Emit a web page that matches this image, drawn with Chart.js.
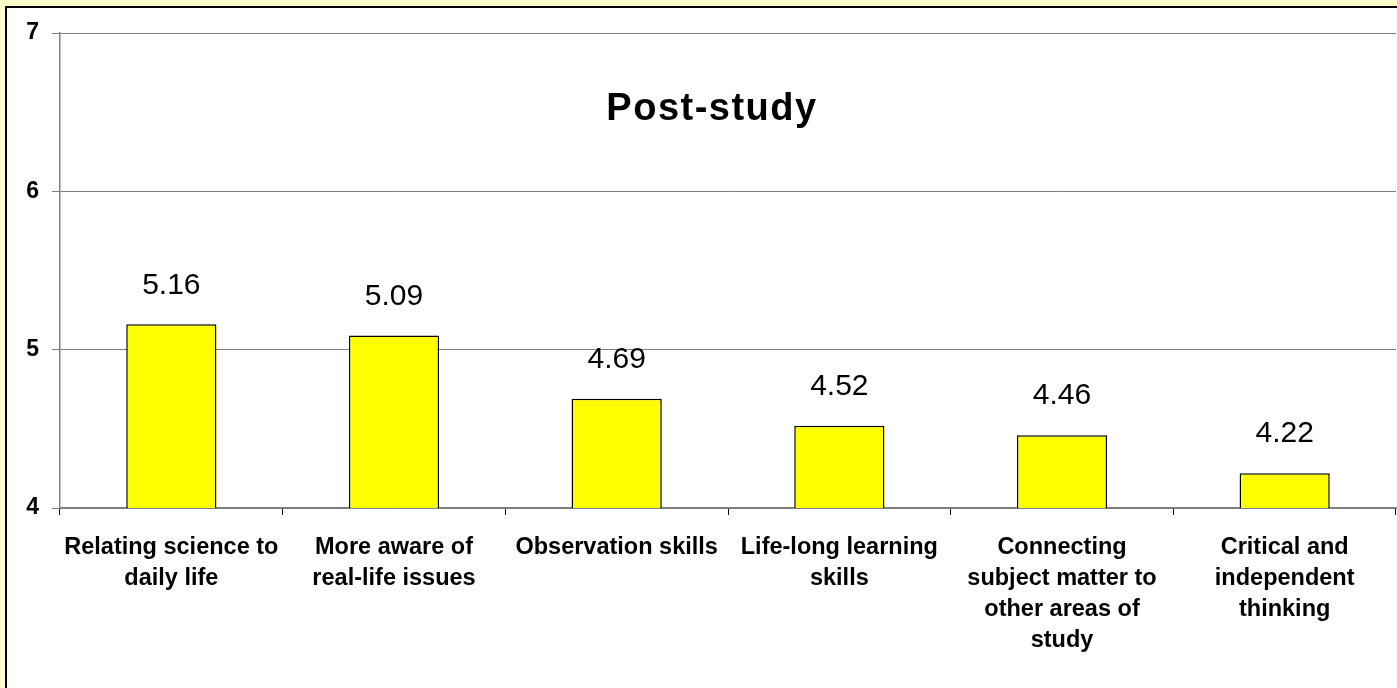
<!DOCTYPE html>
<html>
<head>
<meta charset="utf-8">
<style>
  html, body { margin: 0; padding: 0; background: #FFFFCC; }
  #wrap { position: relative; width: 1397px; height: 688px; }
  canvas { display: block; }
</style>
<script src="https://cdn.jsdelivr.net/npm/chart.js@4/dist/chart.umd.min.js"></script>
</head>
<body>
<div id="wrap"><canvas id="c" width="1397" height="688"></canvas></div>
<script>
// Survey categories (multi-line axis labels)
const categories = [
  ["Relating science to", "daily life"],
  ["More aware of", "real-life issues"],
  ["Observation skills"],
  ["Life-long learning", "skills"],
  ["Connecting", "subject matter to", "other areas of", "study"],
  ["Critical and", "independent", "thinking"]
];
// Mean ratings after the study
const postStudy = [5.16, 5.09, 4.69, 4.52, 4.46, 4.22];
// Rating axis
const yTicks = [4, 5, 6, 7];
const chartTitle = "Post-study";

const FONT = "'Liberation Sans', Arial, Helvetica, sans-serif";

// Page frame: pale yellow surround with a white, black-edged panel
const framePlugin = {
  id: 'frame',
  beforeDraw(chart) {
    const ctx = chart.ctx;
    ctx.save();
    ctx.fillStyle = '#FFFFCC';
    ctx.fillRect(0, 0, chart.width, chart.height);
    ctx.fillStyle = '#FFFFFF';
    ctx.fillRect(6, 7, chart.width, chart.height);
    ctx.strokeStyle = '#000000';
    ctx.lineWidth = 2;
    ctx.beginPath();
    ctx.moveTo(6, chart.height + 2);
    ctx.lineTo(6, 7);
    ctx.lineTo(chart.width + 2, 7);
    ctx.stroke();
    ctx.restore();
  }
};

// Title inside the plot area, plus value labels above each bar
const labelPlugin = {
  id: 'labels',
  afterDatasetsDraw(chart) {
    const ctx = chart.ctx;
    const area = chart.chartArea;
    ctx.save();
    ctx.fillStyle = '#000000';
    ctx.textAlign = 'center';
    ctx.textBaseline = 'middle';
    ctx.font = 'bold 38px ' + FONT;
    if ('letterSpacing' in ctx) ctx.letterSpacing = '1.5px';
    ctx.fillText(chartTitle, (area.left + area.right) / 2 - 16, area.top + 77);
    if ('letterSpacing' in ctx) ctx.letterSpacing = '0px';

    ctx.font = '30px ' + FONT;
    const meta = chart.getDatasetMeta(0);
    meta.data.forEach((bar, i) => {
      const v = chart.data.datasets[0].data[i];
      ctx.fillText(v.toFixed(2), bar.x, bar.y - 39);
    });
    ctx.restore();
  }
};

new Chart(document.getElementById('c'), {
  type: 'bar',
  data: {
    labels: categories,
    datasets: [{
      data: postStudy,
      backgroundColor: '#FFFF00',
      borderColor: '#000000',
      borderWidth: 1.5,
      borderSkipped: false,
      categoryPercentage: 1.0,
      barPercentage: 0.405
    }]
  },
  options: {
    responsive: false,
    animation: false,
    devicePixelRatio: 1,
    layout: { padding: { top: 33, left: 0, right: 1, bottom: 0 } },
    plugins: {
      legend: { display: false },
      title: { display: false },
      tooltip: { enabled: false }
    },
    scales: {
      y: {
        min: yTicks[0],
        max: yTicks[yTicks.length - 1],
        afterBuildTicks(scale) { scale.ticks = yTicks.map(v => ({ value: v })); },
        afterFit(scale) { scale.width = 60; },
        ticks: {
          color: '#000000',
          font: { family: FONT, size: 23, weight: 'bold' },
          padding: 13
        },
        grid: {
          color: '#7F7F7F',
          lineWidth: 1,
          tickLength: 8,
          drawTicks: true
        },
        border: { color: '#7F7F7F', width: 1.5 }
      },
      x: {
        afterFit(scale) { scale.height = 180; },
        ticks: {
          color: '#000000',
          font: { family: FONT, size: 23.5, weight: 'bold', lineHeight: 1.32 },
          padding: 17,
          maxRotation: 0,
          autoSkip: false
        },
        grid: {
          offset: true,
          drawOnChartArea: false,
          color: '#000000',
          tickLength: 7,
          lineWidth: 1
        },
        border: { color: '#7F7F7F', width: 1.5 }
      }
    }
  },
  plugins: [framePlugin, labelPlugin]
});
</script>
</body>
</html>
